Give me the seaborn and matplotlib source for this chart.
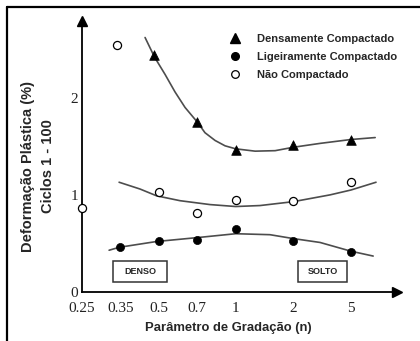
import numpy as np
import matplotlib
matplotlib.use("Agg")
import matplotlib.pyplot as plt
from matplotlib.patches import Rectangle
from matplotlib.lines import Line2D
import seaborn as sns

# Gradation parameter ticks and their spacing along the horizontal axis
tick_n = [0.25, 0.35, 0.5, 0.7, 1, 2, 5]
tick_labels = ["0.25", "0.35", "0.5", "0.7", "1", "2", "5"]
tick_pos = [0, 1, 2, 3, 4, 5.5, 7]
y_ticks = [0, 1, 2]

# Plastic deformation (%) over cycles 1-100 for each compaction state
dense_n = [0.48, 0.7, 1, 2, 5]
dense_y = [2.44, 1.75, 1.46, 1.51, 1.56]
light_n = [0.35, 0.5, 0.7, 1, 2, 5]
light_y = [0.46, 0.52, 0.54, 0.65, 0.53, 0.41]
loose_n = [0.25, 0.34, 0.5, 0.7, 1, 2, 5]
loose_y = [0.86, 2.54, 1.03, 0.81, 0.95, 0.94, 1.13]

# Trend curves through each series
dense_fit_n = [0.44, 0.48, 0.528, 0.576, 0.629, 0.7, 0.752, 0.826, 0.906, 1, 1.263,
               1.607, 2, 3.06, 5, 7.35]
dense_fit_y = [2.62, 2.42, 2.24, 2.06, 1.90, 1.75, 1.64, 1.56, 1.505, 1.474, 1.45,
               1.455, 1.49, 1.53, 1.57, 1.59]
light_fit_n = [0.317, 0.346, 0.49, 0.7, 1, 1.51, 2, 3.06, 5, 7.12]
light_fit_y = [0.43, 0.46, 0.52, 0.56, 0.60, 0.59, 0.55, 0.51, 0.42, 0.37]
loose_fit_n = [0.346, 0.42, 0.49, 0.602, 0.788, 1, 1.34, 2, 3.59, 5, 7.45]
loose_fit_y = [1.13, 1.06, 0.99, 0.94, 0.90, 0.88, 0.89, 0.93, 1.00, 1.05, 1.13]

series_labels = ["Densamente Compactado", "Ligeiramente Compactado", "Não Compactado"]

sns.set_theme(style="white")
plt.rcParams["font.family"] = ["Liberation Sans", "DejaVu Sans"]

# Piecewise-logarithmic gradation scale
_ln = np.log(np.r_[tick_n[0] / 1.4, tick_n, 12.5])
_pos = np.r_[-1.0, tick_pos, 8.5]


def fwd(x):
    x = np.asarray(x, dtype=float)
    return np.interp(np.log(np.clip(x, 1e-6, None)), _ln, _pos)


def inv(p):
    p = np.asarray(p, dtype=float)
    return np.exp(np.interp(p, _pos, _ln))


fig = plt.figure(figsize=(4.2, 3.41), dpi=100)
ax = fig.add_axes([82 / 420, 1 - 292 / 341, 315 / 420, 271 / 341])
ax.set_xscale("function", functions=(fwd, inv))
ax.set_xlim(0.25, 10.4)
ax.set_ylim(0, 2.79)

curve_kw = dict(color="#4d4d4d", linewidth=1.2, estimator=None, sort=False, ax=ax, legend=False)
sns.lineplot(x=dense_fit_n, y=dense_fit_y, **curve_kw)
sns.lineplot(x=light_fit_n, y=light_fit_y, **curve_kw)
sns.lineplot(x=loose_fit_n, y=loose_fit_y, **curve_kw)

sns.scatterplot(x=dense_n, y=dense_y, marker="^", s=48, color="black",
                edgecolor="black", linewidth=0.5, ax=ax, zorder=4, clip_on=False)
sns.scatterplot(x=light_n, y=light_y, marker="o", s=34, color="black",
                edgecolor="black", linewidth=0.5, ax=ax, zorder=4, clip_on=False)
sns.scatterplot(x=loose_n, y=loose_y, marker="o", s=34, color="white",
                edgecolor="black", linewidth=0.9, ax=ax, zorder=4, clip_on=False)

# Axes: left and bottom only, with arrow heads
for side in ["top", "right"]:
    ax.spines[side].set_visible(False)
for side in ["left", "bottom"]:
    ax.spines[side].set_color("black")
    ax.spines[side].set_linewidth(1.3)
ax.plot(1, 0, ">", transform=ax.transAxes, clip_on=False, color="black", ms=7.5)
ax.plot(0, 1, "^", transform=ax.transAxes, clip_on=False, color="black", ms=7.5)

ax.set_xticks(tick_n)
ax.set_xticklabels(tick_labels)
ax.xaxis.set_minor_locator(matplotlib.ticker.NullLocator())
ax.set_yticks(y_ticks)
ax.tick_params(direction="in", length=5, width=1, color="black", labelsize=11,
               labelcolor="#222222")
ax.tick_params(axis="x", pad=7)
ax.tick_params(axis="y", pad=3)
for lab in ax.get_xticklabels() + ax.get_yticklabels():
    lab.set_family("Liberation Serif")

ax.set_xlabel("Parâmetro de Gradação (n)", fontsize=9.4, fontweight="bold")
ax.xaxis.set_label_coords(0.465, -0.133)
ax.xaxis.label.set_va("center")
fig.text(38 / 420, 1 - 166 / 341, "Deformação Plástica (%)\nCiclos 1 - 100",
         rotation=90, ha="center", va="center", multialignment="center",
         fontsize=10.5, fontweight="bold", linespacing=1.5)

# Legend
handles = [
    Line2D([], [], linestyle="none", marker="^", ms=6.5, color="black"),
    Line2D([], [], linestyle="none", marker="o", ms=5.5, color="black"),
    Line2D([], [], linestyle="none", marker="o", ms=5.5, markerfacecolor="white",
           markeredgecolor="black", markeredgewidth=0.9),
]
ax.legend(handles, series_labels, loc="upper left", bbox_to_anchor=(0.453, 0.97),
          frameon=False, prop={"weight": "bold", "size": 8}, handlelength=1.0,
          handletextpad=1.5, labelspacing=0.72, borderaxespad=0)

# DENSO / SOLTO boxes
for x0, x1, text in [(0.098, 0.270, "DENSO"), (0.686, 0.841, "SOLTO")]:
    ax.add_patch(Rectangle((x0, 0.037), x1 - x0, 0.077, transform=ax.transAxes,
                           facecolor="white", edgecolor="#333333", linewidth=1.1,
                           clip_on=False, zorder=3))
    ax.text((x0 + x1) / 2, 0.0755, text, transform=ax.transAxes, ha="center",
            va="center", fontsize=6.5, fontweight="bold", zorder=4)

# Figure frame on left and top edges
fig.add_artist(Line2D([7 / 420, 7 / 420], [0, 1 - 7 / 341], transform=fig.transFigure,
                      color="black", linewidth=1.6))
fig.add_artist(Line2D([7 / 420, 1], [1 - 7 / 341, 1 - 7 / 341], transform=fig.transFigure,
                      color="black", linewidth=1.6))

fig.savefig("out.png", dpi=100)
